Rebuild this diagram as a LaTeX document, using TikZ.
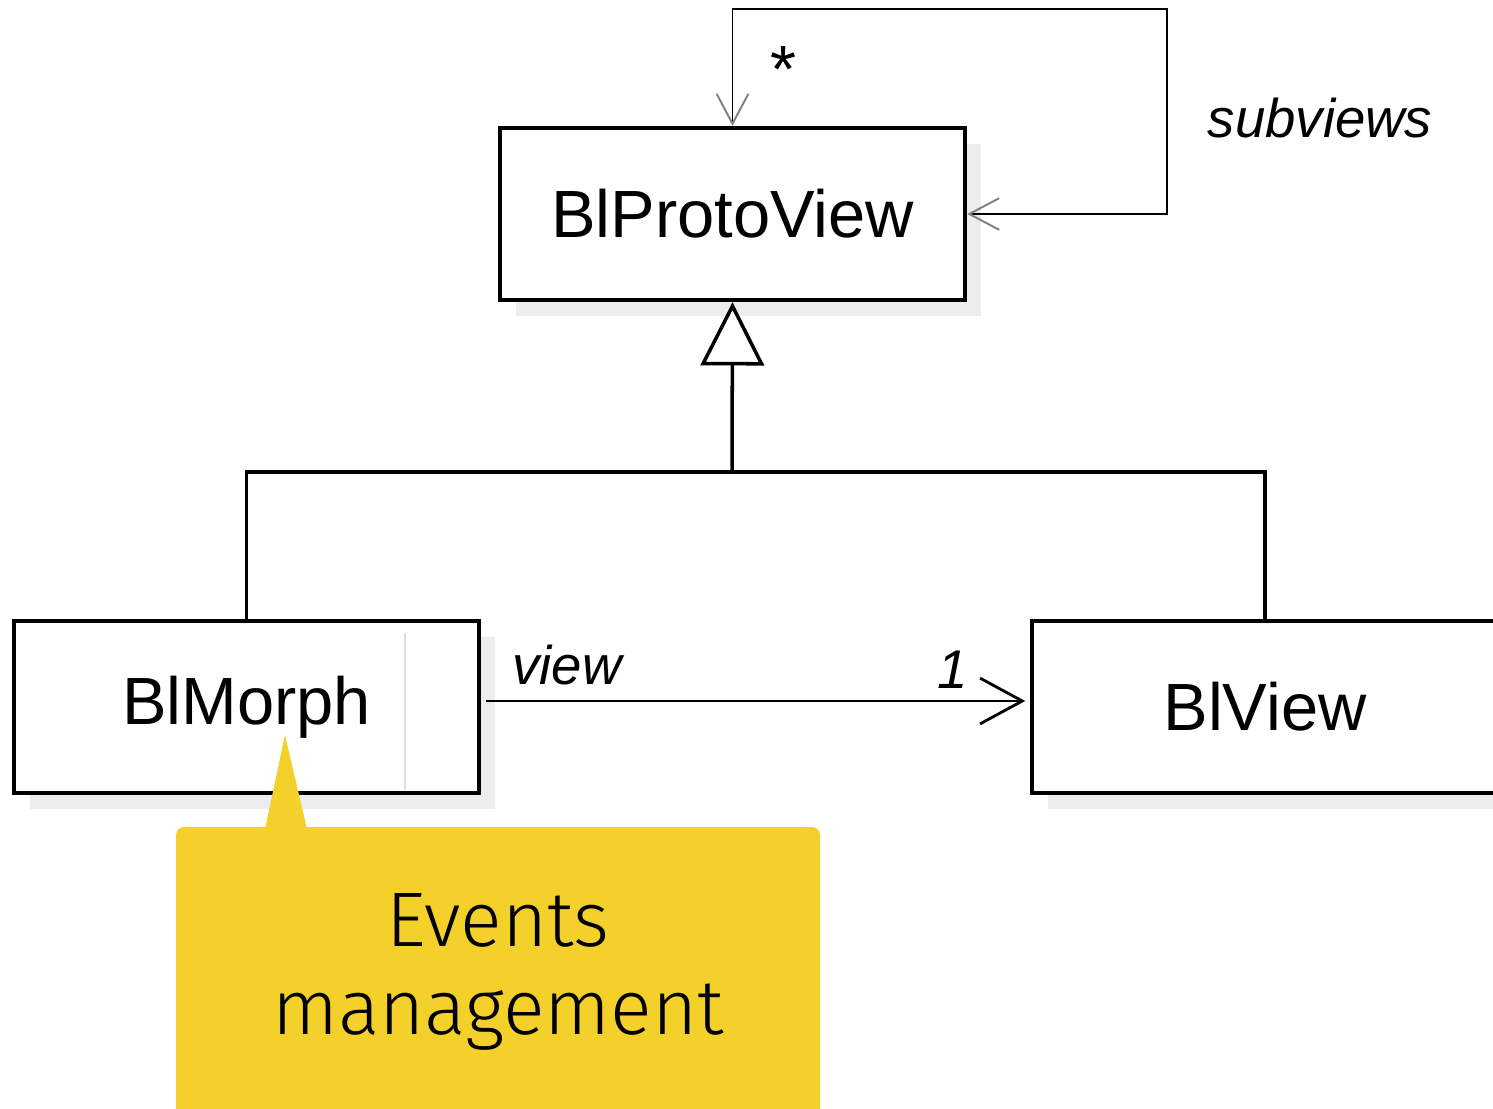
\documentclass[tikz,border=0pt]{standalone}
\usepackage{fontspec}
\setmainfont{Liberation Sans}
\newfontfamily\calloutfont{Fira Sans Light}
\usepackage{tikz}
\usetikzlibrary{shapes.geometric, arrows.meta, positioning, shadows}
\definecolor{calloutyellow}{HTML}{F4D12A}
\definecolor{shadowgray}{HTML}{EDEDED}
\tikzstyle{umlclass} = [draw, line width=1.2pt, fill=white, minimum width=4.65cm, minimum height=1.72cm, font=\fontsize{19}{22}\selectfont, general shadow={fill=shadowgray, shadow xshift=4.5pt, shadow yshift=-4.5pt}]
\tikzstyle{assoc} = [draw, line width=0.8pt, -{Straight Barb[length=12pt, width=13pt]}]
\tikzstyle{selfassoc} = [draw, line width=0.55pt, {Straight Barb[length=8.5pt, width=9pt, color=gray]}-{Straight Barb[length=8.5pt, width=9pt, color=gray]}]
\tikzstyle{inherit} = [draw, line width=1pt]
\tikzstyle{rolelabel} = [font=\fontsize{15.5}{18}\selectfont\itshape]

\begin{document}
\begin{tikzpicture}[x=0.01cm, y=-0.01cm]
		\useasboundingbox (0,0) rectangle (1493,1109);
		\clip (0,0) rectangle (1493,1109);
		
		% Clases
		\node[umlclass] (protoview) at (732.5,214) {BlProtoView};
		\node[umlclass] (morph) at (246.5,707) {BlMorph};
		\node[umlclass] (blview) at (1265,707) {BlView};
		\draw[black!12, line width=0.4pt] (405,633) -- (405,790);
		
		% Herencia
		\coordinate (join) at (732,472);
		\draw[inherit] (morph.north) |- (join) -| (blview.north);
		\draw[inherit, -{Triangle[open, length=18pt, width=18pt, fill=white]}] (join) -- (protoview.south);
		
		% Asociacion view
		\draw[assoc] ([xshift=0.05cm, yshift=0.06cm]morph.east) -- ([xshift=-0.05cm, yshift=0.06cm]blview.west);
		\node[rolelabel] (viewrole) at (567,665) {view};
		\node[rolelabel] (viewmult) at (953,670) {1};
		
		% Asociacion subviews
		\coordinate (loopcorner) at (1167,9);
		\draw[selfassoc] (protoview.north) |- (loopcorner) |- (protoview.east);
		\node[font=\fontsize{19}{22}\selectfont] (submult) at (783,70) {*};
		\node[rolelabel] (subrole) at (1320,118) {subviews};
		
		% Nota
		\fill[calloutyellow, rounded corners=0.08cm] (176,827) rectangle (820,1140);
		\fill[calloutyellow] (265,829) -- (285,735) -- (307,829) -- cycle;
		\node[font=\calloutfont\fontsize{22}{25}\selectfont, align=center] (note) at (498,972) {Events\\management};
	\end{tikzpicture}
\end{document}
